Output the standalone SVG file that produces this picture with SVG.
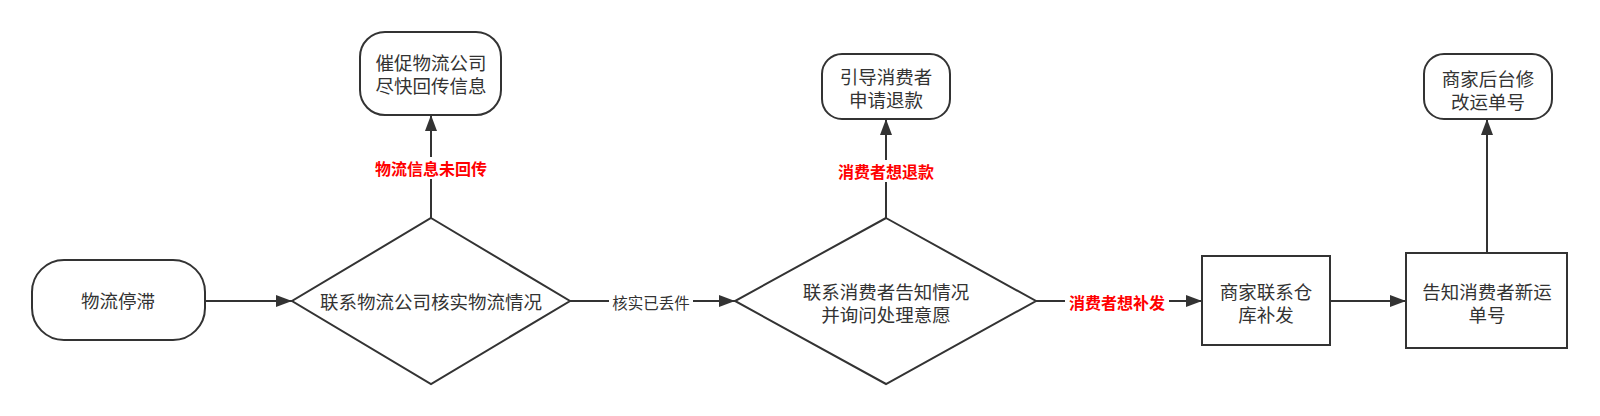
<svg xmlns="http://www.w3.org/2000/svg" width="1600" height="416" viewBox="0 0 1600 416">
<style>
.shape{fill:#ffffff;stroke:#333333;stroke-width:2}
.t{font-family:"Noto Sans CJK SC","Noto Sans",sans-serif;font-size:18.5px;fill:#333333;text-anchor:middle;dominant-baseline:central}
.lbl{font-family:"Noto Sans CJK SC","Noto Sans",sans-serif;font-size:15.5px;fill:#333333;text-anchor:middle;dominant-baseline:central}
.red{fill:#ff0000;font-weight:bold;font-size:16px}
.edge{fill:none;stroke:#333333;stroke-width:2}
.bg{fill:#ffffff}
</style>
<defs>
<marker id="arr" markerUnits="userSpaceOnUse" markerWidth="17" markerHeight="13" refX="16" refY="6" orient="auto">
<path d="M0,0 L16,6 L0,12 z" fill="#333333"/>
</marker>
</defs>
<rect width="1600" height="416" fill="#ffffff"/>
<g id="connectors">
<line class="edge" x1="205" y1="301" x2="292" y2="301" marker-end="url(#arr)"/>
<line class="edge" x1="570" y1="301" x2="735" y2="301" marker-end="url(#arr)"/>
<rect class="bg" x="609" y="291" width="84" height="22"/>
<text class="lbl" x="651" y="302">核实已丢件</text>
<line class="edge" x1="431" y1="218" x2="431" y2="115" marker-end="url(#arr)"/>
<rect class="bg" x="370" y="157" width="122" height="22"/>
<text class="lbl red" x="431" y="168">物流信息未回传</text>
<line class="edge" x1="886" y1="218" x2="886" y2="119" marker-end="url(#arr)"/>
<rect class="bg" x="834" y="160" width="104" height="22"/>
<text class="lbl red" x="886" y="171">消费者想退款</text>
<line class="edge" x1="1036" y1="301" x2="1202" y2="301" marker-end="url(#arr)"/>
<rect class="bg" x="1065" y="291" width="104" height="22"/>
<text class="lbl red" x="1117" y="302">消费者想补发</text>
<line class="edge" x1="1330" y1="301" x2="1406" y2="301" marker-end="url(#arr)"/>
<line class="edge" x1="1487" y1="253" x2="1487" y2="119" marker-end="url(#arr)"/>
</g>
<g id="node-start">
<rect class="shape" x="32" y="260" width="173" height="80" rx="32" ry="32"/>
<text class="t" x="118" y="300">物流停滞</text>
</g>
<g id="node-check">
<polygon class="shape" points="431,218 570,301 431,384 292,301"/>
<text class="t" x="431" y="301">联系物流公司核实物流情况</text>
</g>
<g id="node-urge">
<rect class="shape" x="360" y="32" width="141" height="83" rx="25" ry="25"/>
<text class="t" x="431" y="62">催促物流公司</text>
<text class="t" x="431" y="85">尽快回传信息</text>
</g>
<g id="node-contact">
<polygon class="shape" points="886,218 1036,301 886,384 735,301"/>
<text class="t" x="886" y="291">联系消费者告知情况</text>
<text class="t" x="886" y="314">并询问处理意愿</text>
</g>
<g id="node-refund">
<rect class="shape" x="822" y="54" width="128" height="65" rx="20" ry="20"/>
<text class="t" x="886" y="76">引导消费者</text>
<text class="t" x="886" y="99">申请退款</text>
</g>
<g id="node-reship">
<rect class="shape" x="1202" y="256" width="128" height="89"/>
<text class="t" x="1266" y="291">商家联系仓</text>
<text class="t" x="1266" y="314">库补发</text>
</g>
<g id="node-notify">
<rect class="shape" x="1406" y="253" width="161" height="95"/>
<text class="t" x="1487" y="291">告知消费者新运</text>
<text class="t" x="1487" y="314">单号</text>
</g>
<g id="node-modify">
<rect class="shape" x="1424" y="54" width="128" height="65" rx="20" ry="20"/>
<text class="t" x="1488" y="78">商家后台修</text>
<text class="t" x="1488" y="101">改运单号</text>
</g>
</svg>
